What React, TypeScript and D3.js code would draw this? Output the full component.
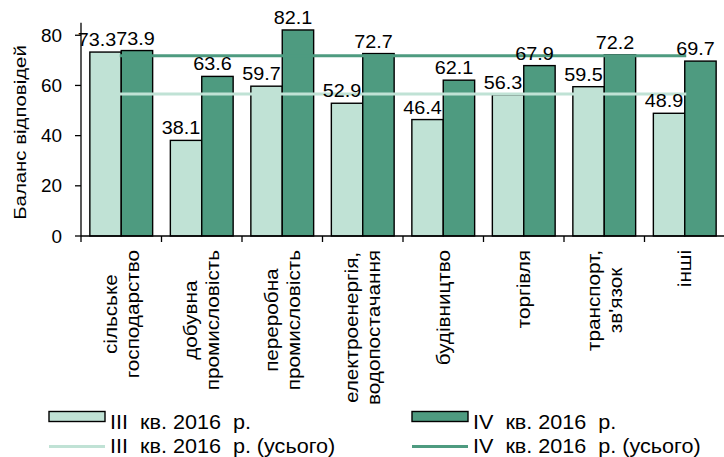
import React, { useEffect, useRef } from "react";
import * as d3 from "d3";

const categories: string[][] = [
  ["сільське", "господарство"],
  ["добувна", "промисловість"],
  ["переробна", "промисловість"],
  ["електроенергія,", "водопостачання"],
  ["будівництво"],
  ["торгівля"],
  ["транспорт,", "зв'язок"],
  ["інші"],
];
const seriesNames = ["III  кв. 2016  р.", "IV  кв. 2016  р."];
const lineNames = ["III  кв. 2016  р. (усього)", "IV  кв. 2016  р. (усього)"];
const q3Values = [73.3, 38.1, 59.7, 52.9, 46.4, 56.3, 59.5, 48.9];
const q4Values = [73.9, 63.6, 82.1, 72.7, 62.1, 67.9, 72.2, 69.7];
const totals = [56.6, 71.8];
const yTicks = [0, 20, 40, 60, 80];
const yTitle = "Баланс відповідей";

const W = 724;
const H = 457;
const FONT = "'Liberation Sans', Arial, sans-serif";
const LIGHT = "#c0e2d5";
const DARK = "#4e9b80";
const SX = 1.1;
const CSX = 1.15;

export default function App() {
  const ref = useRef<SVGSVGElement>(null);
  useEffect(() => {
    const svg = d3.select(ref.current);
    svg.selectAll("*").remove();
    const left = 81, right = 725, top = 22.7, bottom = 236;
    const y = d3.scaleLinear().domain([0, 85]).range([bottom, top]);
    const keys = categories.map((c) => c.join(" "));
    const x = d3.scaleBand().domain(keys).range([left, right]).paddingInner(0.22).paddingOuter(0.11);
    const xs = d3.scaleBand().domain(["q3", "q4"]).range([0, x.bandwidth()]);
    const step = (right - left) / keys.length;

    const txt = (g: any, s: string, tx: number, ty: number, rot: number, size: number, anchor: string, sx = SX) =>
      g.append("text")
        .attr("transform", `translate(${tx},${ty}) rotate(${rot}) scale(${sx},1)`)
        .attr("text-anchor", anchor)
        .attr("font-family", FONT)
        .attr("font-size", size)
        .attr("fill", "#000")
        .attr("xml:space", "preserve")
        .style("white-space", "pre")
        .text(s);

    // bars
    const series = [
      { key: "q3", vals: q3Values, fill: LIGHT },
      { key: "q4", vals: q4Values, fill: DARK },
    ];
    series.forEach((s) => {
      svg.append("g").selectAll("rect").data(s.vals).enter().append("rect")
        .attr("x", (_d: number, i: number) => (x(keys[i]) as number) + (xs(s.key) as number))
        .attr("y", (d: number) => y(d))
        .attr("width", xs.bandwidth())
        .attr("height", (d: number) => y(0) - y(d))
        .attr("fill", s.fill)
        .attr("stroke", "#000")
        .attr("stroke-width", 1.4);
    });

    // total lines
    const cx = (i: number) => (x(keys[i]) as number) + x.bandwidth() / 2;
    [LIGHT, DARK].forEach((col, k) => {
      const line = d3.line<number>().x((_d, i) => cx(i)).y((d) => y(d));
      svg.append("path")
        .attr("d", line(keys.map(() => totals[k])) as string)
        .attr("fill", "none").attr("stroke", col).attr("stroke-width", 3)
        .attr("stroke-linecap", "square");
    });

    // axes
    svg.append("line").attr("x1", left).attr("x2", left).attr("y1", top).attr("y2", bottom).attr("stroke", "#000").attr("stroke-width", 1.3);
    svg.append("line").attr("x1", left).attr("x2", right).attr("y1", bottom).attr("y2", bottom).attr("stroke", "#000").attr("stroke-width", 1.3);
    yTicks.forEach((t) => {
      svg.append("line").attr("x1", left - 6).attr("x2", left).attr("y1", y(t)).attr("y2", y(t)).attr("stroke", "#000").attr("stroke-width", 1.3);
      txt(svg, String(t), 62, y(t) + 6.5, 0, 18, "end", 1.05);
    });
    for (let i = 0; i <= keys.length; i++) {
      const xx = left + i * step;
      svg.append("line").attr("x1", xx).attr("x2", xx).attr("y1", bottom).attr("y2", bottom + 6).attr("stroke", "#000").attr("stroke-width", 1.3);
    }

    // y title
    txt(svg, yTitle, 26, 132.5, -90, 17, "middle", 1.2);

    // category labels
    const labTop = 250;
    categories.forEach((lines, i) => {
      const g = svg.append("g");
      const els = lines.map((l) => txt(g, l, 0, 0, -90, 18, "middle", CSX));
      const maxLen = Math.max(...els.map((e: any) => e.node().getComputedTextLength() * CSX));
      const yc = labTop + maxLen / 2;
      const L = 22;
      els.forEach((e: any, j: number) => {
        const c = cx(i) + (j - (lines.length - 1) / 2) * L;
        e.attr("transform", `translate(${c + 6.5},${yc}) rotate(-90) scale(${CSX},1)`);
      });
    });

    // value labels
    keys.forEach((_k, i) => {
      const a = txt(svg, q3Values[i].toFixed(1), 0, 0, 0, 18, "middle");
      const b = txt(svg, q4Values[i].toFixed(1), 0, 0, 0, 18, "middle");
      const wa = (a.node() as SVGTextElement).getComputedTextLength() * SX;
      const wb = (b.node() as SVGTextElement).getComputedTextLength() * SX;
      let ca = (x(keys[i]) as number) + (xs("q3") as number) + xs.bandwidth() / 2 - 5;
      let cb = (x(keys[i]) as number) + (xs("q4") as number) + xs.bandwidth() / 2 - 5;
      const ya = y(q3Values[i]) - 6;
      const yb = y(q4Values[i]) - 6;
      const overlapV = Math.abs(ya - yb) < 16;
      const ov = ca + wa / 2 - (cb - wb / 2);
      if (overlapV && ov > 0) {
        ca -= ov / 2;
        cb += ov / 2;
      }
      if (cb + wb / 2 > W) cb = W - wb / 2;
      a.attr("transform", `translate(${ca},${ya}) scale(${SX},1)`);
      b.attr("transform", `translate(${cb},${yb}) scale(${SX},1)`);
    });

    // legend
    const lx = [49, 412];
    series.forEach((s, k) => {
      svg.append("rect").attr("x", lx[k]).attr("y", 411.5).attr("width", 56).attr("height", 10)
        .attr("fill", s.fill).attr("stroke", "#000").attr("stroke-width", 1.4);
      txt(svg, seriesNames[k], lx[k] + 61, 429, 0, 20, "start", 1.08);
      svg.append("line").attr("x1", lx[k]).attr("x2", lx[k] + 56).attr("y1", 446.5).attr("y2", 446.5)
        .attr("stroke", s.fill).attr("stroke-width", 3);
      txt(svg, lineNames[k], lx[k] + 61, 453, 0, 20, "start", 1.08);
    });
  }, []);
  return (
    <svg ref={ref} width={W} height={H} style={{ position: "absolute", left: 0, top: 0, background: "#fff" }} />
  );
}
